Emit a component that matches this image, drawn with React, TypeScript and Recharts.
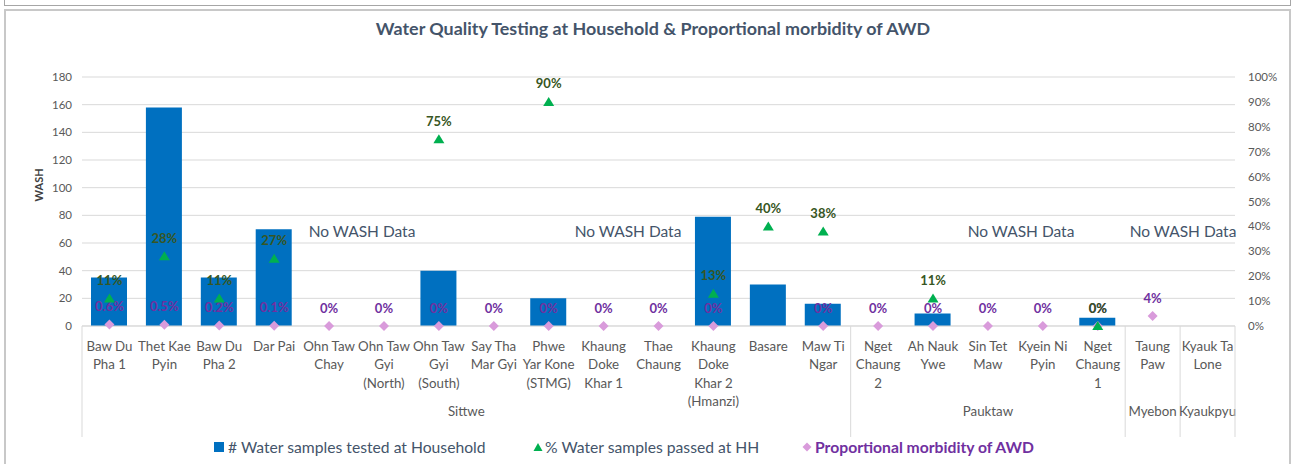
import { ComposedChart, Bar, Line, XAxis, YAxis, CartesianGrid } from 'recharts'

const categories = [
  'Baw Du\nPha 1', 'Thet Kae\nPyin', 'Baw Du\nPha 2', 'Dar Pai', 'Ohn Taw\nChay',
  'Ohn Taw\nGyi\n(North)', 'Ohn Taw\nGyi\n(South)', 'Say Tha\nMar Gyi', 'Phwe\nYar Kone\n(STMG)',
  'Khaung\nDoke\nKhar 1', 'Thae\nChaung', 'Khaung\nDoke\nKhar 2\n(Hmanzi)', 'Basare', 'Maw Ti\nNgar',
  'Nget\nChaung\n2', 'Ah Nauk\nYwe', 'Sin Tet\nMaw', 'Kyein Ni\nPyin', 'Nget\nChaung\n1',
  'Taung\nPaw', 'Kyauk Ta\nLone',
]
const townships = [
  'Sittwe', 'Sittwe', 'Sittwe', 'Sittwe', 'Sittwe', 'Sittwe', 'Sittwe', 'Sittwe', 'Sittwe',
  'Sittwe', 'Sittwe', 'Sittwe', 'Sittwe', 'Sittwe',
  'Pauktaw', 'Pauktaw', 'Pauktaw', 'Pauktaw', 'Pauktaw',
  'Myebon', 'Kyaukpyu',
]
const samplesTested = [35, 158, 35, 70, null, null, 40, null, 20, null, null, 79, 30, 16, null, 9, null, null, 6, null, null]
const passedPct = [0.11, 0.28, 0.11, 0.27, null, null, 0.75, null, 0.9, null, null, 0.13, 0.4, 0.38, null, 0.11, null, null, 0, null, null]
const awdMorbidity = [0.006, 0.005, 0.002, 0.001, 0, 0, 0, 0, 0, 0, 0, 0, null, 0, 0, 0, 0, 0, 0, 0.04, null]
const countTicks = [0, 20, 40, 60, 80, 100, 120, 140, 160, 180]
const pctTicks = [0, 0.1, 0.2, 0.3, 0.4, 0.5, 0.6, 0.7, 0.8, 0.9, 1]

const data = categories.map((name, i) => ({
  name,
  township: townships[i],
  tested: samplesTested[i],
  passed: passedPct[i],
  awd: awdMorbidity[i],
}))

const FONT = 'Lato, "Open Sans", sans-serif'
const BLUE = '#0070C0'
const GREEN = '#00B050'
const PINK = '#D99BDB'

const fmtPct = (v: number) => {
  if (v === 0) return '0%'
  if (v < 0.01) return (v * 100).toFixed(1) + '%'
  return Math.round(v * 100) + '%'
}

function TriangleDot(props: any) {
  const { cx, cy, index, payload } = props
  const v = payload?.passed
  if (v == null || cy == null) return <g key={`tri-${index}`} />
  return (
    <g key={`tri-${index}`}>
      <path d={`M${cx},${cy - 5} L${cx + 5.5},${cy + 4} L${cx - 5.5},${cy + 4} Z`} fill={GREEN} />
      <text x={cx} y={cy - 13.5} textAnchor="middle" fontFamily={FONT} fontSize={13} fontWeight={700} fill="#375623">
        {fmtPct(v)}
      </text>
    </g>
  )
}

function DiamondDot(props: any) {
  const { cx, cy, index, payload } = props
  const v = payload?.awd
  if (v == null || cy == null) return <g key={`dia-${index}`} />
  return (
    <g key={`dia-${index}`}>
      <path d={`M${cx},${cy - 5} L${cx + 5},${cy} L${cx},${cy + 5} L${cx - 5},${cy} Z`} fill={PINK} />
      <text x={cx} y={cy - 13.5} textAnchor="middle" fontFamily={FONT} fontSize={13} fontWeight={700} fill="#7030A0">
        {fmtPct(v)}
      </text>
    </g>
  )
}

function CategoryTick(props: any) {
  const { x, y, payload, index } = props
  const half = payload?.offset || 27.45
  const lines = String(payload.value).split('\n')
  const t = townships[index]
  const isFirst = index === 0 || townships[index - 1] !== t
  const n = townships.filter((v) => v === t).length
  return (
    <g>
      {lines.map((ln, i) => (
        <text key={i} x={x} y={y + 25 + i * 18.3} textAnchor="middle" fontFamily={FONT} fontSize={13.3} fill="#595959">
          {ln}
        </text>
      ))}
      {isFirst && (
        <g>
          <line x1={x - half} x2={x - half} y1={y} y2={y + 111} stroke="#D9D9D9" />
          <text x={x + (n - 1) * half} y={y + 90} textAnchor="middle" fontFamily={FONT} fontSize={13.3} fill="#595959">
            {t}
          </text>
        </g>
      )}
      {index === categories.length - 1 && (
        <line x1={x + half} x2={x + half} y1={y} y2={y + 111} stroke="#D9D9D9" />
      )}
    </g>
  )
}

const noteStyle = {
  position: 'absolute' as const,
  top: 222,
  transform: 'translateX(-50%)',
  fontFamily: FONT,
  fontSize: 15.5,
  color: '#44546A',
  whiteSpace: 'nowrap' as const,
}

const legendText = { fontFamily: FONT, fontSize: 15.7, color: '#44546A', whiteSpace: 'nowrap' as const }

export default function App() {
  return (
    <div style={{ position: 'absolute', left: 0, top: 0, width: 1293, height: 464, overflow: 'hidden', background: '#fff' }}>
      <div style={{ position: 'absolute', left: 4, top: -12, width: 1287, height: 18, border: '1.5px solid #A6A6A6', boxSizing: 'border-box' }} />
      <div style={{ position: 'absolute', left: 4, top: 9, width: 1287, height: 470, border: '2px solid #C8C8C8', boxSizing: 'border-box' }} />

      <div style={{ position: 'absolute', left: 0, width: 1306, top: 17, textAlign: 'center', fontFamily: FONT, fontWeight: 700, fontSize: 17.9, color: '#44546A' }}>
        Water Quality Testing at Household &amp; Proportional morbidity of AWD
      </div>

      <div style={{ position: 'absolute', left: 0, top: 0 }}>
        <ComposedChart width={1293} height={464} data={data} margin={{ top: 77, right: 8, bottom: 0, left: 32 }}>
          <CartesianGrid yAxisId="count" vertical={false} stroke="#D9D9D9" />
          <XAxis
            dataKey="name"
            interval={0}
            height={138}
            tickSize={0}
            tickMargin={0}
            tickLine={false}
            axisLine={{ stroke: '#D9D9D9' }}
            tick={<CategoryTick />}
          />
          <YAxis
            yAxisId="count"
            width={50}
            domain={[0, 180]}
            ticks={countTicks}
            axisLine={false}
            tickLine={false}
            tickMargin={4}
            tick={{ fontFamily: FONT, fontSize: 11.5, fill: '#595959' }}
            label={{ value: 'WASH', angle: -90, position: 'insideLeft', offset: 7, style: { fontFamily: FONT, fontSize: 11, fontWeight: 700, fill: '#404040' } }}
          />
          <YAxis
            yAxisId="pct"
            orientation="right"
            width={50}
            domain={[0, 1]}
            ticks={pctTicks}
            axisLine={false}
            tickLine={false}
            tickMargin={7}
            tickFormatter={(v: number) => Math.round(v * 100) + '%'}
            tick={{ fontFamily: FONT, fontSize: 11.5, fill: '#595959', textAnchor: 'start' }}
          />
          <Bar yAxisId="count" dataKey="tested" fill={BLUE} barSize={36} isAnimationActive={false} />
          <Line
            yAxisId="pct"
            dataKey="awd"
            stroke="none"
            dot={(p: any) => <DiamondDot {...p} />}
            activeDot={false}
            isAnimationActive={false}
          />
          <Line
            yAxisId="pct"
            dataKey="passed"
            stroke="none"
            dot={(p: any) => <TriangleDot {...p} />}
            activeDot={false}
            isAnimationActive={false}
          />
        </ComposedChart>
      </div>

      <div style={{ ...noteStyle, left: 362 }}>No WASH Data</div>
      <div style={{ ...noteStyle, left: 628 }}>No WASH Data</div>
      <div style={{ ...noteStyle, left: 1021 }}>No WASH Data</div>
      <div style={{ ...noteStyle, left: 1183 }}>No WASH Data</div>

      <div style={{ position: 'absolute', top: 438, left: 213, display: 'flex', alignItems: 'center' }}>
        <svg width={12} height={12} style={{ marginRight: 3 }}>
          <rect x={1} y={1} width={10} height={10} fill={BLUE} />
        </svg>
        <span style={legendText}># Water samples tested at Household</span>
      </div>
      <div style={{ position: 'absolute', top: 438, left: 532, display: 'flex', alignItems: 'center' }}>
        <svg width={12} height={12} style={{ marginRight: 1 }}>
          <path d="M6,2 L10.5,10 L1.5,10 Z" fill={GREEN} />
        </svg>
        <span style={legendText}>% Water samples passed at HH</span>
      </div>
      <div style={{ position: 'absolute', top: 438, left: 801, display: 'flex', alignItems: 'center' }}>
        <svg width={12} height={12} style={{ marginRight: 2 }}>
          <path d="M6,1.5 L10.5,6 L6,10.5 L1.5,6 Z" fill={PINK} />
        </svg>
        <span style={{ ...legendText, fontWeight: 700, color: '#7030A0' }}>Proportional morbidity of AWD</span>
      </div>
    </div>
  )
}
